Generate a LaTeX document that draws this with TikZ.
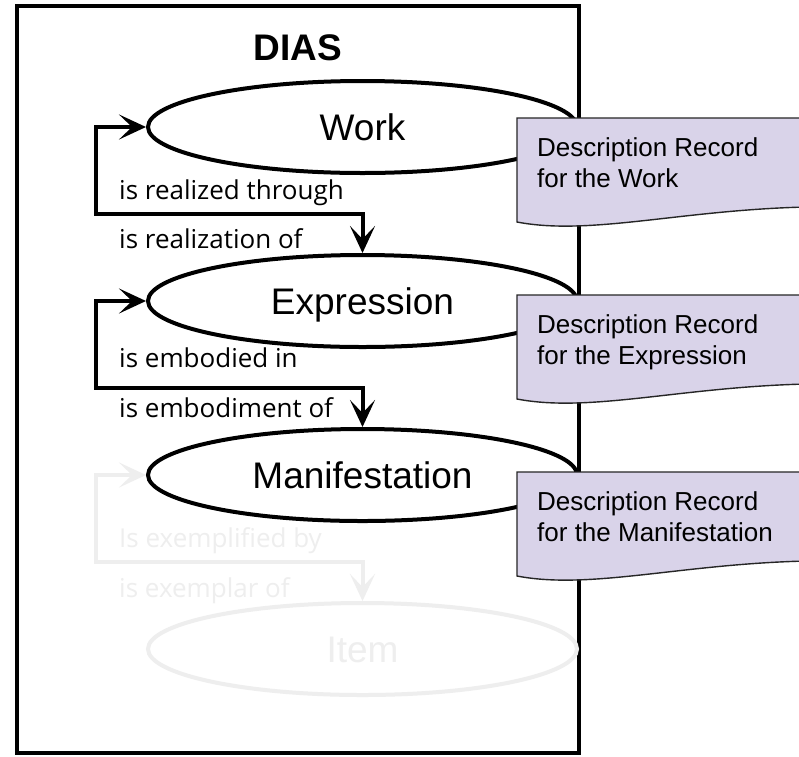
\documentclass[tikz,border=0pt]{standalone}
\usepackage{fontspec}
\setmainfont{Liberation Sans}
\newfontfamily\osans{Open Sans}
\usetikzlibrary{shapes.geometric,arrows.meta,calc}
\definecolor{lav}{RGB}{217,211,233}
\definecolor{faint}{RGB}{238,238,238}
\begin{document}
\begin{tikzpicture}[x=1pt,y=-1pt,
  ent/.style={ellipse, draw, line width=4pt, minimum width=429pt, minimum height=92pt,
    inner sep=0pt, font=\fontsize{37}{40}\selectfont, text height=27pt, text depth=0pt},
  rel/.style={font=\osans\fontsize{26}{30}\selectfont, anchor=base west, inner sep=0pt},
  arr/.style={line width=4pt,
    {Stealth[length=27pt,width=25pt,inset=13pt]}-{Stealth[length=27pt,width=25pt,inset=13pt]}},
  docbox/.style={draw=black!85, line width=1.4pt, fill=lav},
  desc/.style={font=\fontsize{26}{31}\selectfont, anchor=base west, inner sep=0pt},
  frame/.style={draw, line width=4pt}
]
\useasboundingbox (0,0) rectangle (799,756);
\clip (0,0) rectangle (799,756);
\fill[white] (0,0) rectangle (799,756);

% frame
\draw[frame] (17,6) rectangle (579,753);
\node[font=\bfseries\fontsize{37}{40}\selectfont, anchor=base, inner sep=0pt] (title) at (297.5,60) {DIAS};

% entities
\node[ent] (work) at (362.5,127) {Work};
\node[ent] (expr) at (362.5,301) {Expression};
\node[ent] (mani) at (362.5,475) {Manifestation};
\node[ent, draw=faint, text=faint] (item) at (362.5,649) {Item};

% loops
\draw[arr] (work.west) -- ++(-50,0) |- ($(work.south)!0.5!(expr.north)$) -- (expr.north);
\draw[arr] (expr.west) -- ++(-50,0) |- ($(expr.south)!0.5!(mani.north)$) -- (mani.north);
\draw[arr, color=faint] (mani.west) -- ++(-50,0) |- ($(mani.south)!0.5!(item.north)$) -- (item.north);

% loop labels
\node[rel] (l1a) at (119,199) {is realized through};
\node[rel] (l1b) at (119,248) {is realization of};
\node[rel] (l2a) at (119,367) {is embodied in};
\node[rel] (l2b) at (119,417) {is embodiment of};
\node[rel, text=faint] (l3a) at (119,547) {Is exemplified by};
\node[rel, text=faint] (l3b) at (119,597) {is exemplar of};

% description boxes
\foreach \T/\nm/\txt in {118/dw/Work, 295/de/Expression, 472/dm/Manifestation}{
  \path[docbox] (517,\T) -- (806,\T) -- (806,\T+89)
     .. controls (680,\T+92) and (590,\T+118) .. (517,\T+104) -- cycle;
  \node[desc] (\nm a) at (537,\T+38) {Description Record};
  \node[desc] (\nm b) at (537,\T+69) {for the \txt};
}
\end{tikzpicture}
\end{document}
